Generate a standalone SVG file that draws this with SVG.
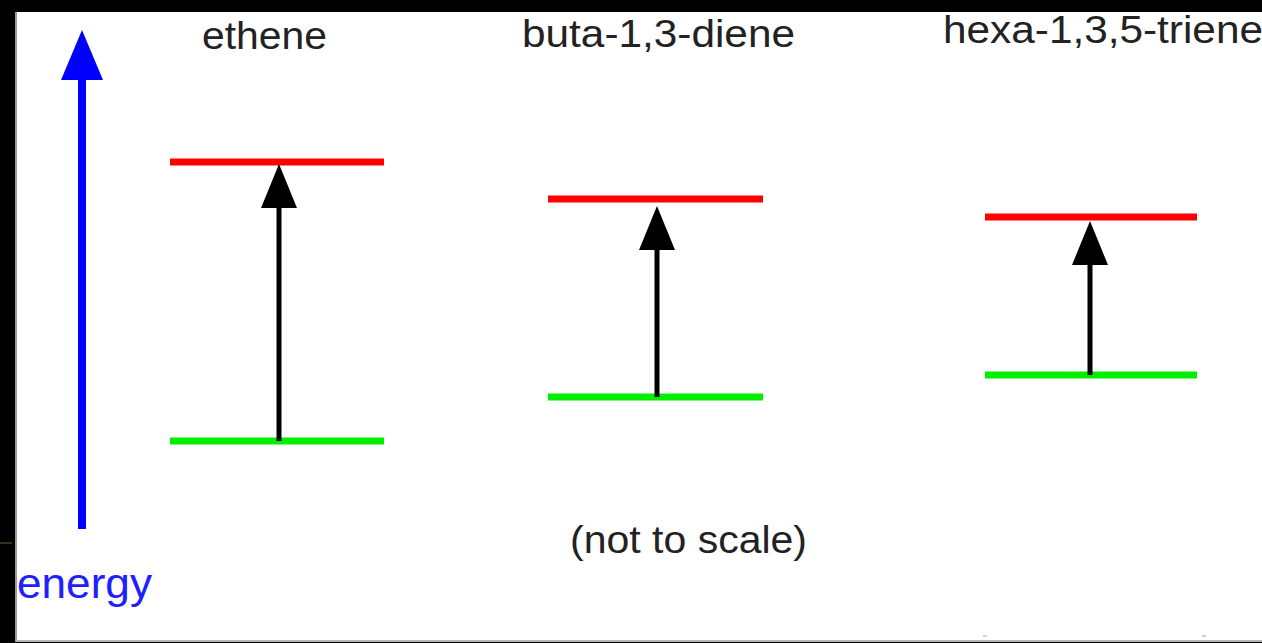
<svg xmlns="http://www.w3.org/2000/svg" width="1262" height="643" viewBox="0 0 1262 643">
  <style>
    .lbl { font-family: "Liberation Sans", Arial, sans-serif; font-size: 38px; fill: #222; }
    .energy { font-family: "Liberation Sans", Arial, sans-serif; font-size: 42px; fill: #2020ff; }
    .homo { stroke: #00ee00; stroke-width: 7; }
    .lumo { stroke: #ff0000; stroke-width: 7; }
    .trans { stroke: #000; stroke-width: 5; fill: none; }
    .axis { stroke: #0000ff; stroke-width: 8; fill: none; }
  </style>
  <defs>
    <marker id="headBlack" viewBox="0 -18 44 36" refX="0" refY="0" markerWidth="44" markerHeight="36" markerUnits="userSpaceOnUse" orient="auto">
      <path d="M0,-18 L44,0 L0,18 Z" fill="#000"/>
    </marker>
    <marker id="headBlue" viewBox="0 -21 50 42" refX="0" refY="0" markerWidth="50" markerHeight="42" markerUnits="userSpaceOnUse" orient="auto">
      <path d="M0,-21 L50,0 L0,21 Z" fill="#0000ff"/>
    </marker>
  </defs>

  <!-- background and frame -->
  <rect x="0" y="0" width="1262" height="643" fill="#000"/>
  <rect x="17" y="12" width="1245" height="629" fill="#fff"/>
  <line x1="16" y1="12" x2="16" y2="642" stroke="#9a9a9a" stroke-width="2"/>
  <line x1="16" y1="641" x2="1262" y2="641" stroke="#b8b8b8" stroke-width="2"/>
  <line x1="0" y1="543" x2="12" y2="543" stroke="#3a2f1e" stroke-width="2"/>
  <rect x="983" y="635" width="4" height="2" fill="#d0d0d0"/>
  <rect x="1202" y="635" width="4" height="2" fill="#d0d0d0"/>

  <!-- energy axis -->
  <g id="energy-axis">
    <line class="axis" x1="82" y1="529" x2="82" y2="80" marker-end="url(#headBlue)"/>
    <text class="energy" x="17" y="598" textLength="135" lengthAdjust="spacingAndGlyphs">energy</text>
  </g>

  <!-- ethene -->
  <g id="ethene">
    <text class="lbl" x="202" y="49" textLength="125" lengthAdjust="spacingAndGlyphs">ethene</text>
    <line class="lumo" x1="170" y1="162" x2="384" y2="162"/>
    <line class="homo" x1="170" y1="441" x2="384" y2="441"/>
  </g>

  <!-- buta-1,3-diene -->
  <g id="butadiene">
    <text class="lbl" x="522" y="47" textLength="273" lengthAdjust="spacingAndGlyphs">buta-1,3-diene</text>
    <line class="lumo" x1="548" y1="199" x2="763" y2="199"/>
    <line class="homo" x1="548" y1="397" x2="763" y2="397"/>
  </g>

  <!-- hexa-1,3,5-triene -->
  <g id="hexatriene">
    <text class="lbl" x="943" y="43" textLength="320" lengthAdjust="spacingAndGlyphs">hexa-1,3,5-triene</text>
    <line class="lumo" x1="985" y1="217" x2="1197" y2="217"/>
    <line class="homo" x1="985" y1="375" x2="1197" y2="375"/>
  </g>

  <!-- note -->
  <g id="note">
    <text class="lbl" x="570" y="553" textLength="237" lengthAdjust="spacingAndGlyphs">(not to scale)</text>
  </g>

  <!-- transitions -->
  <g id="connectors">
    <line class="trans" x1="279" y1="441" x2="279" y2="208" marker-end="url(#headBlack)"/>
    <line class="trans" x1="657" y1="397" x2="657" y2="250" marker-end="url(#headBlack)"/>
    <line class="trans" x1="1090" y1="375" x2="1090" y2="265" marker-end="url(#headBlack)"/>
  </g>
</svg>
